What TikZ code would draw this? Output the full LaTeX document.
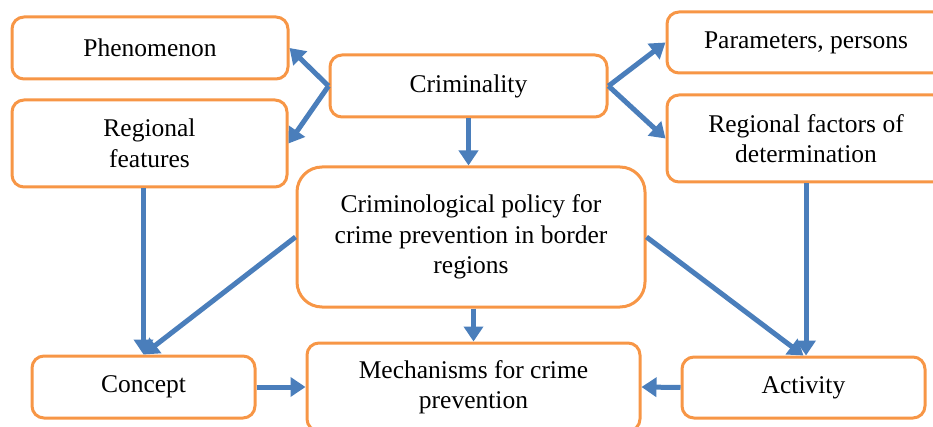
\documentclass[tikz,border=0pt]{standalone}
\usepackage{fontspec}
\setmainfont{Liberation Serif}
\usetikzlibrary{arrows.meta,calc}
\definecolor{boxorange}{HTML}{F79646}
\definecolor{arrowblue}{HTML}{4A7EBB}
\begin{document}
\begin{tikzpicture}[x=1pt,y=-1pt,
  box/.style={draw=boxorange,line width=3pt,rounded corners=12pt,fill=white,
    inner sep=0pt,align=center,font=\fontsize{25.5}{30.5}\selectfont},
  conn/.style={draw=arrowblue,line width=5pt,
    -{Triangle[width=19pt,length=15pt]}},
]
\useasboundingbox (0,0) rectangle (933,427);
\clip (0,0) rectangle (933,427);
\node[box,minimum width=276pt,minimum height=62pt] (phen) at (150,48) {Phenomenon};
\node[box,minimum width=275pt,minimum height=87pt] (reg) at (149.5,143.5) {Regional\\features};
\node[box,minimum width=277pt,minimum height=62pt] (crim) at (468.5,86) {Criminality};
\node[box,minimum width=278pt,minimum height=61pt] (par) at (806,42.5) {Parameters, persons};
\node[box,minimum width=278pt,minimum height=87pt] (rf) at (806,138.5) {Regional factors of\\determination};
\node[box,rounded corners=25pt,minimum width=348pt,minimum height=140pt] (pol) at (471,237)
  {Criminological policy for\\crime prevention in border\\regions};
\node[box,minimum width=223pt,minimum height=62pt] (con) at (143.5,387) {Concept};
\node[box,minimum width=333pt,minimum height=88pt] (mech) at (473.5,387) {Mechanisms for crime\\prevention};
\node[box,minimum width=243pt,minimum height=61pt] (act) at (803.5,387.5) {Activity};

\coordinate (cl) at (crim.west);
\coordinate (cr) at (crim.east);
\draw[conn] (cl) -- (phen.east);
\draw[conn] (cl) -- (reg.east);
\draw[conn] (cr) -- (par.west);
\draw[conn] (cr) -- (rf.west);
\draw[conn] (crim.south) -- (crim.south |- pol.north);
\draw[conn] (reg.south -| con.north) -- (con.north);
\draw[conn] (pol.west) -- (con.north);
\draw[conn] (pol.east) -- (act.north);
\draw[conn] (rf.south) -- (rf.south |- act.north);
\draw[conn] (mech.north |- pol.south) -- (mech.north);
\draw[conn] (con.east) -- (mech.west);
\draw[conn] (act.west) -- (mech.east);
\end{tikzpicture}
\end{document}
